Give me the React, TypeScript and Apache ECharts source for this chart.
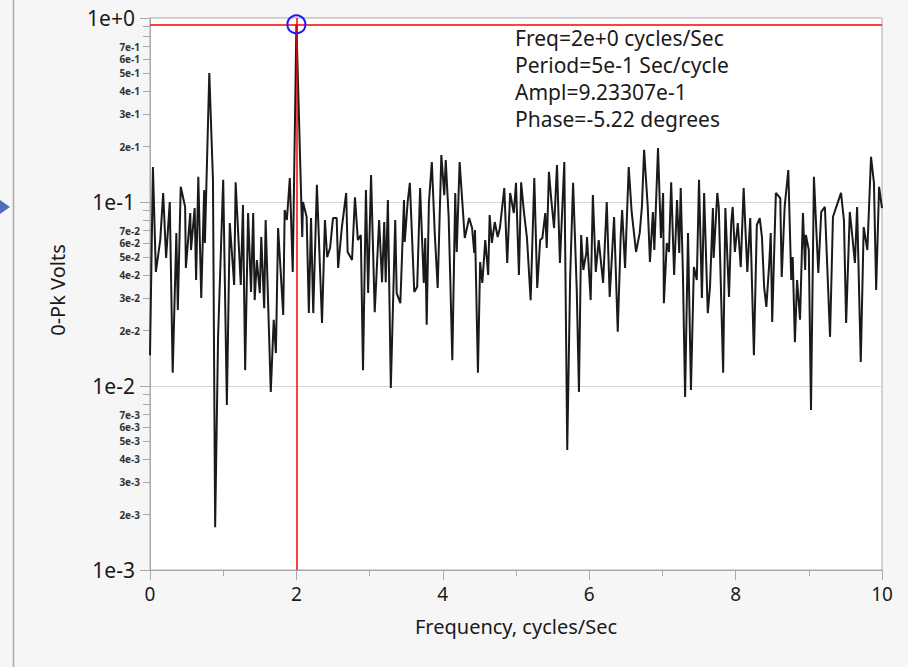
import React, { useEffect, useRef } from "react";
import * as echarts from "echarts";

// Spectrum (frequency in cycles/Sec, 0-Pk amplitude in Volts)
const freqs = [
  0.0, 0.04, 0.08, 0.14, 0.18, 0.22, 0.27, 0.31, 0.36, 0.38, 0.42, 0.48, 0.49, 0.55, 0.56, 0.61, 0.63, 0.66, 0.7, 0.74,
  0.75, 0.81, 0.86, 0.89, 0.93, 1.0, 1.05, 1.09, 1.15, 1.17, 1.24, 1.27, 1.3, 1.34, 1.38, 1.41, 1.43, 1.46, 1.5, 1.52,
  1.56, 1.58, 1.65, 1.69, 1.72, 1.75, 1.82, 1.84, 1.87, 1.91, 1.95, 2.0, 2.08, 2.09, 2.14, 2.17, 2.2, 2.23, 2.28, 2.35,
  2.39, 2.42, 2.46, 2.5, 2.55, 2.57, 2.62, 2.68, 2.7, 2.76, 2.8, 2.84, 2.88, 2.91, 2.95, 2.98, 3.02, 3.07, 3.13, 3.17,
  3.2, 3.22, 3.25, 3.29, 3.35, 3.37, 3.42, 3.47, 3.48, 3.52, 3.55, 3.61, 3.65, 3.69, 3.74, 3.76, 3.78, 3.81, 3.85, 3.89,
  3.93, 3.98, 4.02, 4.04, 4.08, 4.1, 4.13, 4.17, 4.19, 4.23, 4.3, 4.36, 4.4, 4.43, 4.44, 4.48, 4.51, 4.54, 4.58, 4.62,
  4.64, 4.67, 4.71, 4.75, 4.78, 4.84, 4.88, 4.92, 4.97, 5.0, 5.04, 5.07, 5.11, 5.15, 5.2, 5.25, 5.29, 5.33, 5.36, 5.4,
  5.42, 5.45, 5.48, 5.52, 5.56, 5.6, 5.66, 5.7, 5.74, 5.78, 5.83, 5.86, 5.89, 5.92, 5.96, 5.97, 6.02, 6.05, 6.09, 6.13,
  6.19, 6.24, 6.28, 6.34, 6.39, 6.43, 6.45, 6.49, 6.54, 6.58, 6.64, 6.69, 6.72, 6.75, 6.8, 6.83, 6.87, 6.89, 6.94, 6.98,
  7.01, 7.02, 7.06, 7.09, 7.12, 7.16, 7.2, 7.23, 7.25, 7.28, 7.31, 7.35, 7.39, 7.43, 7.47, 7.5, 7.54, 7.57, 7.62, 7.65,
  7.69, 7.7, 7.75, 7.77, 7.83, 7.86, 7.91, 7.94, 7.96, 7.99, 8.03, 8.07, 8.11, 8.16, 8.2, 8.25, 8.29, 8.33, 8.36, 8.39,
  8.42, 8.46, 8.48, 8.5, 8.55, 8.61, 8.63, 8.67, 8.72, 8.76, 8.78, 8.81, 8.84, 8.88, 8.92, 8.95, 8.96, 9.0, 9.03, 9.07,
  9.13, 9.17, 9.22, 9.29, 9.33, 9.37, 9.44, 9.48, 9.51, 9.56, 9.59, 9.63, 9.66, 9.69, 9.71, 9.75, 9.8, 9.85, 9.89, 9.92,
  9.96, 10.0,
];
const amps = [
  0.0147, 0.155, 0.0417, 0.0621, 0.112, 0.0496, 0.1, 0.0118, 0.0679, 0.0259, 0.121, 0.094, 0.0438, 0.0871, 0.0548, 0.0927, 0.0377, 0.137, 0.0301, 0.116,
  0.0599, 0.502, 0.132, 0.00171, 0.0185, 0.132, 0.00788, 0.0769, 0.0354, 0.128, 0.0354, 0.0964, 0.0122, 0.0871, 0.0324, 0.0871, 0.0293, 0.0484, 0.032, 0.0645,
  0.0265, 0.0798, 0.00927, 0.0229, 0.0151, 0.0722, 0.0243, 0.0905, 0.0798, 0.135, 0.0417, 0.923307, 0.0645, 0.1, 0.0829, 0.0249, 0.0818, 0.0249, 0.124, 0.022,
  0.0798, 0.0502, 0.0562, 0.0818, 0.0818, 0.0438, 0.0722, 0.112, 0.0535, 0.0484, 0.106, 0.0621, 0.0662, 0.0122, 0.116, 0.032, 0.14, 0.0252, 0.0798, 0.0367,
  0.0778, 0.0367, 0.1025, 0.00976, 0.0798, 0.032, 0.0282, 0.1025, 0.0607, 0.1, 0.127, 0.0324, 0.0345, 0.119, 0.0363, 0.0637, 0.0215, 0.0988, 0.165, 0.0679,
  0.0341, 0.18, 0.109, 0.169, 0.0829, 0.0411, 0.0138, 0.112, 0.0535, 0.165, 0.0637, 0.0818, 0.0722, 0.0528, 0.0705, 0.0118, 0.0472, 0.0363, 0.0621, 0.0401,
  0.085, 0.0599, 0.0778, 0.0645, 0.0722, 0.119, 0.0466, 0.112, 0.0871, 0.127, 0.0401, 0.128, 0.0871, 0.0637, 0.0293, 0.135, 0.0341, 0.0621, 0.0637, 0.0871,
  0.0562, 0.146, 0.105, 0.0722, 0.159, 0.0466, 0.165, 0.00449, 0.0391, 0.127, 0.0333, 0.00927, 0.0662, 0.0427, 0.0528, 0.0645, 0.0293, 0.109, 0.0417, 0.0621,
  0.0363, 0.1, 0.0305, 0.0829, 0.0197, 0.0645, 0.0905, 0.0438, 0.155, 0.0883, 0.0535, 0.0679, 0.094, 0.192, 0.094, 0.0472, 0.0883, 0.0548, 0.1965, 0.0637,
  0.112, 0.0282, 0.0599, 0.0535, 0.128, 0.0401, 0.1025, 0.0528, 0.119, 0.0411, 0.00871, 0.0679, 0.0095, 0.0443, 0.0377, 0.132, 0.0301, 0.112, 0.0249, 0.0345,
  0.0927, 0.0496, 0.112, 0.094, 0.0118, 0.0927, 0.0305, 0.0769, 0.094, 0.0535, 0.0769, 0.0443, 0.119, 0.0417, 0.0818, 0.0147, 0.075, 0.0818, 0.0645, 0.0345,
  0.0269, 0.0466, 0.0679, 0.0223, 0.112, 0.105, 0.0391, 0.094, 0.149, 0.0377, 0.0502, 0.0173, 0.0377, 0.0229, 0.0871, 0.0427, 0.0662, 0.0548, 0.00741, 0.137,
  0.0411, 0.0883, 0.094, 0.0185, 0.0829, 0.0927, 0.112, 0.0798, 0.022, 0.0883, 0.0679, 0.0466, 0.094, 0.0293, 0.0135, 0.0731, 0.0548, 0.176, 0.127, 0.0333,
  0.121, 0.0927,
];

// Selected peak (crosshair)
const peakFreq = 2;
const peakAmpl = 0.923307;
const infoLines = [
  "Freq=2e+0 cycles/Sec",
  "Period=5e-1 Sec/cycle",
  "Ampl=9.23307e-1",
  "Phase=-5.22 degrees",
];

// Axis ticks
const xMin = 0;
const xMax = 10;
const xInterval = 2;
const yMin = 0.001;
const yMax = 1;
const minorMantissas = [2, 3, 4, 5, 6, 7, 8, 9];
const labeledMantissas = [2, 3, 4, 5, 6, 7];
const decades = [-3, -2, -1];

const FONT = "'Segoe UI', 'Noto Sans', 'Open Sans', sans-serif";

export default function App() {
  const ref = useRef<HTMLDivElement>(null);

  useEffect(() => {
    if (!ref.current) return;
    const chart = echarts.init(ref.current, null, { renderer: "svg" });
    const data = freqs.map((f, i) => [f, amps[i]]);
    const minorTickPos: number[] = [];
    const minorLabelPos: number[] = [];
    decades.forEach((e) => {
      minorMantissas.forEach((m) => minorTickPos.push(e + Math.log10(m)));
      labeledMantissas.forEach((m) => minorLabelPos.push(e + Math.log10(m)));
    });

    const option: any = {
      animation: false,
      backgroundColor: "#f6f6f6",
      grid: {
        left: 150,
        right: 26,
        top: 18,
        bottom: 97,
        show: true,
        backgroundColor: "#ffffff",
        borderColor: "#a8a8a8",
        borderWidth: 1,
      },
      xAxis: {
        type: "value",
        min: xMin,
        max: xMax,
        interval: xInterval,
        name: "Frequency, cycles/Sec",
        nameLocation: "middle",
        nameGap: 46,
        nameTextStyle: { fontFamily: FONT, fontSize: 20, color: "#1a1a1a" },
        axisLine: { show: true, onZero: false, lineStyle: { color: "#a8a8a8", width: 1 } },
        axisTick: { show: true, length: 10, lineStyle: { color: "#a8a8a8" } },
        minorTick: { show: true, splitNumber: 2, length: 6, lineStyle: { color: "#a8a8a8" } },
        axisLabel: { fontFamily: FONT, fontSize: 19, color: "#1a1a1a", margin: 14 },
        splitLine: { show: false },
      },
      yAxis: [
        {
          type: "log",
          logBase: 10,
          min: yMin,
          max: yMax,
          splitNumber: 3,
          name: "0-Pk Volts",
          nameLocation: "middle",
          nameRotate: 90,
          nameGap: 83,
          nameTextStyle: { fontFamily: FONT, fontSize: 20, color: "#1a1a1a", padding: [0, 0, 0, 8] },
          axisLine: { show: true, lineStyle: { color: "#a8a8a8", width: 1 } },
          axisTick: { show: true, length: 10, lineStyle: { color: "#a8a8a8" } },
          axisLabel: {
            fontFamily: FONT,
            fontSize: 21,
            color: "#1a1a1a",
            margin: 15,
            formatter: (v: number) => {
              const e = Math.round(Math.log10(v));
              return "1e" + (e >= 0 ? "+" + e : String(e));
            },
          },
          splitLine: { show: true, lineStyle: { color: "#d4d4d4", width: 1 } },
        },
        {
          type: "value",
          min: Math.log10(yMin),
          max: Math.log10(yMax),
          position: "left",
          axisLine: { show: false },
          axisTick: {
            show: true,
            length: 7,
            customValues: minorTickPos,
            lineStyle: { color: "#a8a8a8" },
          },
          axisLabel: {
            show: true,
            customValues: minorLabelPos,
            fontFamily: FONT,
            fontSize: 10,
            lineHeight: 10,
            fontWeight: "bold",
            color: "#333",
            margin: 10,
            formatter: (v: number) => {
              const e = Math.floor(v + 1e-9);
              const m = Math.round(Math.pow(10, v - e));
              return m + "e" + e;
            },
          },
          splitLine: { show: false },
        },
      ],
      series: [
        {
          type: "line",
          data,
          yAxisIndex: 0,
          symbol: "none",
          lineStyle: { color: "#1a1a1a", width: 2 },
          z: 2,
          markLine: {
            silent: true,
            symbol: "none",
            label: { show: false },
            lineStyle: { color: "#ff0000", width: 1.5, type: "solid" },
            data: [{ yAxis: peakAmpl }, { xAxis: peakFreq }],
          },
          markPoint: {
            symbol: "circle",
            symbolSize: 18,
            label: { show: false },
            itemStyle: { color: "rgba(0,0,0,0)", borderColor: "#1a1aff", borderWidth: 2 },
            data: [{ coord: [peakFreq, peakAmpl] }],
          },
        },
      ],
      graphic: [
        {
          type: "line",
          shape: { x1: 13.5, y1: 0, x2: 13.5, y2: 667 },
          style: { stroke: "#a8a8a8", lineWidth: 1.5 },
          silent: true,
        },
        {
          type: "polygon",
          shape: { points: [[0, 200], [10, 207], [0, 214]] },
          style: { fill: "#4f6db8" },
          silent: true,
        },
        ...infoLines.map((t, i) => ({
          type: "text",
          x: 515,
          y: 27 + i * 27,
          style: {
            text: t,
            fontFamily: FONT,
            fontSize: 21,
            fill: "#1a1a1a",
          },
          silent: true,
          z: 10,
        })),
      ],
    };
    chart.setOption(option);
    return () => chart.dispose();
  }, []);

  return (
    <div
      ref={ref}
      style={{ position: "absolute", left: 0, top: 0, width: 908, height: 667 }}
    />
  );
}
